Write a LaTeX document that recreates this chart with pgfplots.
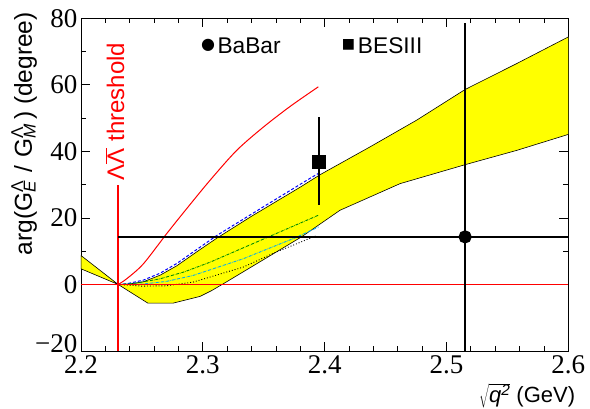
\documentclass[border=0pt]{standalone}
\usepackage{fontspec}
\setmainfont{Liberation Sans}
\newfontfamily\serifticks{Liberation Serif}
\newfontfamily\symfont{DejaVu Sans}
\usepackage{pgfplots}
\pgfplotsset{compat=1.18}
\definecolor{bandyellow}{RGB}{255,255,0}
\definecolor{rootgreen}{RGB}{0,140,0}
\definecolor{rootred}{RGB}{255,0,0}
\begin{document}
\begin{tikzpicture}
\begin{axis}[
  scale only axis,
  width=487.3bp, height=332.7bp,
  xmin=2.2, xmax=2.6, ymin=-20, ymax=80,
  xtick={2.2,2.3,2.4,2.5,2.6},
  xticklabels={2.2,2.3,2.4,2.5,2.6},
  ytick={0,20,40,60,80},
  yticklabels={0,20,40,60,80},
  extra y ticks={-20}, extra y tick labels={−20},
  extra y tick style={yticklabel style={yshift=7bp}},
  minor x tick num=4, minor y tick num=1,
  tick align=inside,
  xtick pos=both, ytick pos=both,
  major tick length=9bp, minor tick length=5bp,
  tick style={black, line width=0.8bp},
  axis line style={line width=0.9bp},
  xticklabel style={font=\serifticks\fontsize{27bp}{30bp}\selectfont, inner sep=0pt, anchor=north, yshift=-4bp},
  yticklabel style={font=\serifticks\fontsize{27bp}{30bp}\selectfont, inner sep=0pt, anchor=east, xshift=-3.5bp},
]
% yellow band
\addplot[fill=bandyellow, draw=black, line width=0.6bp] coordinates {
 (2.2,8.7) (2.2305,0) (2.2375,0.0) (2.2512,0.8) (2.265,2.8) (2.2786,5.6) (2.295,9.8)
 (2.3114,13.9) (2.34,20.5) (2.3802,29.3) (2.3963,33.0) (2.437,41.3) (2.4756,49.4)
 (2.5153,58.6) (2.5577,66.4) (2.6,74.4)
 (2.6,45.1) (2.5577,40.3) (2.5153,36.0) (2.4619,30.3) (2.4126,22.3) (2.381,14.3)
 (2.3168,0.2) (2.307,-1.9) (2.2977,-3.6) (2.2758,-5.6) (2.2548,-5.6) (2.2305,0) (2.2,4.7)
} -- cycle;
% model curves
\addplot[blue, densely dashed, line width=1bp] coordinates {
 (2.2305,0) (2.2375,0.2) (2.2512,1.3) (2.265,3.4) (2.2786,6.3) (2.295,10.5)
 (2.3114,14.7) (2.35,23.4) (2.388,31.9) (2.395,33.4)};
\addplot[rootgreen, densely dash dot, line width=0.9bp] coordinates {
 (2.2305,0) (2.245,0.4) (2.265,1.7) (2.285,3.8) (2.306,6.7) (2.347,13.2) (2.3948,20.8)};
\addplot[cyan, densely dash dot, line width=0.9bp] coordinates {
 (2.2305,0) (2.25,0.1) (2.27,0.9) (2.292,2.7) (2.333,7.7) (2.377,14.2) (2.395,17.3)};
\addplot[black, dotted, line width=0.9bp] coordinates {
 (2.2305,0) (2.25,-0.5) (2.27,-0.4) (2.292,0.7) (2.333,5.2) (2.36,9.7) (2.3935,14.7)};
\addplot[rootred, line width=1bp, smooth] coordinates {
 (2.2305,0) (2.2375,1.7) (2.2512,6.2) (2.2704,15.3) (2.2868,22.8) (2.3059,31.3)
 (2.3278,40.3) (2.3497,47.3) (2.372,53.6) (2.3948,59.4)};
% threshold and zero lines
\addplot[rootred, line width=1.2bp, mark=none] coordinates {(2.2,0) (2.6,0)};
\addplot[rootred, line width=1.5bp, mark=none] coordinates {(2.2302,-20) (2.2302,29.8)};
% BaBar
\addplot[black, line width=2.2bp, mark=*, mark size=5.5bp,
  error bars/.cd, x dir=both, y dir=both, x explicit, y explicit,
  error mark=none, error bar style={line width=2.2bp}]
  coordinates {(2.5153,14.3) += (0.2,64.2) -= (0.2848,40)};
% BESIII
\addplot[black, line width=2.2bp, mark=square*, mark size=5.7bp,
  error bars/.cd, y dir=both, y explicit,
  error mark=none, error bar style={line width=2.2bp}]
  coordinates {(2.3956,36.8) += (0,13.6) -= (0,13.0)};
% threshold label
\node[rootred, rotate=90, anchor=base west, inner sep=0pt, font=\fontsize{24bp}{28bp}\selectfont]
  at (axis cs:2.2355,31.3) {Λ$\overline{\hbox{Λ}}$ threshold};
% legend
\node[inner sep=0pt, font=\symfont\fontsize{16bp}{20bp}\selectfont] at (axis cs:2.3043,71.9) {●};
\node[inner sep=0pt, anchor=base west, font=\fontsize{22.7bp}{26bp}\selectfont] at (axis cs:2.3119,69.4) {BaBar};
\node[inner sep=0pt, font=\symfont\fontsize{14bp}{18bp}\selectfont] at (axis cs:2.4195,71.9) {■};
\node[inner sep=0pt, anchor=base west, font=\fontsize{22.7bp}{26bp}\selectfont] at (axis cs:2.4272,69.4) {BESIII};
\end{axis}
% axis labels
\node[rotate=90, anchor=base east, inner sep=0pt, font=\fontsize{24.5bp}{28bp}\selectfont]
  at ([shift={(-49bp,6.3bp)}]current axis.north west)
  {arg(G\rlap{\textsuperscript{Λ}}\textsubscript{\itshape E}\,\,/\,\,G\rlap{\textsuperscript{Λ}}\textsubscript{\itshape M}\,) (degree)};
\node[anchor=base east, inner sep=0pt, font=\fontsize{22bp}{26bp}\selectfont]
  at ([shift={(7bp,-52bp)}]current axis.south east)
  {$\sqrt{\mbox{\itshape q\textsuperscript{2}}}$ (GeV)};
\pgfresetboundingbox
\path[use as bounding box] ([shift={(-81bp,-58bp)}]current axis.south west) rectangle ([shift={(21.7bp,18.3bp)}]current axis.north east);
\end{tikzpicture}
\end{document}
